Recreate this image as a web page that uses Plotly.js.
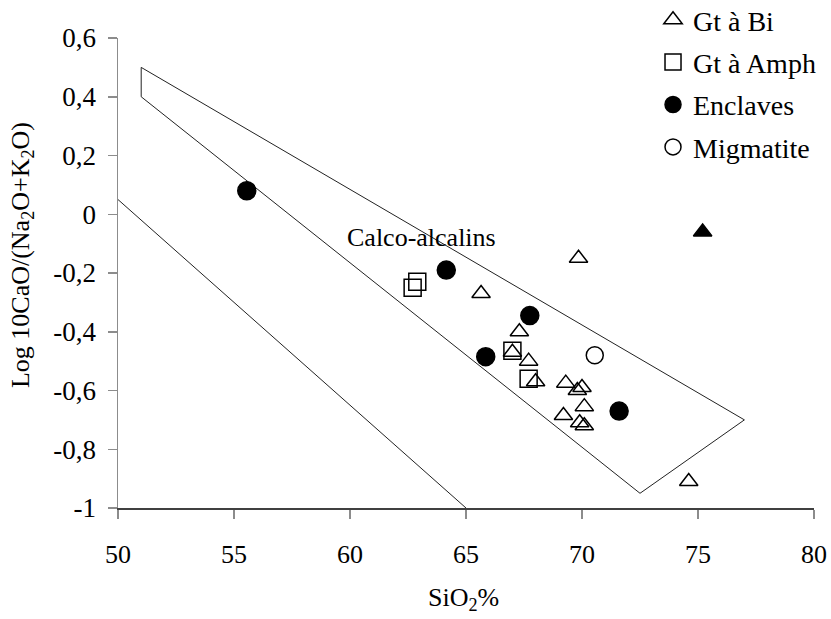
<!DOCTYPE html>
<html>
<head>
<meta charset="utf-8">
<script src="https://cdn.plot.ly/plotly-3.0.1.min.js"></script>
<style>html,body{margin:0;padding:0;background:#fff;}#chart{width:831px;height:619px;}</style>
</head>
<body>
<div id="chart"></div>
<script>
// Calc-alkaline field and boundary line
const fieldX = [51, 77, 72.5, 51, 51];
const fieldY = [0.5, -0.7, -0.95, 0.4, 0.5];
const lineX = [50, 65];
const lineY = [0.05, -1];

// Gt à Bi (open triangles)
const biX = [65.65, 69.85, 67.3, 67.0, 67.7, 68.0, 69.3, 69.8, 70.0, 70.1, 69.2, 69.9, 70.1, 74.6];
const biY = [-0.27, -0.15, -0.40, -0.47, -0.50, -0.57, -0.575, -0.60, -0.59, -0.655, -0.685, -0.71, -0.72, -0.91];
// Gt à Amph (open squares)
const amphX = [62.9, 62.7, 67.0, 67.7];
const amphY = [-0.23, -0.25, -0.465, -0.56];
// Enclaves (filled circles)
const enclX = [55.55, 64.15, 67.75, 65.85, 71.6];
const enclY = [0.08, -0.19, -0.345, -0.485, -0.67];
// Migmatite (open circle)
const migX = [70.55];
const migY = [-0.48];
// Filled triangle
const solidX = [75.2];
const solidY = [-0.06];

const xTicks = [50, 55, 60, 65, 70, 75, 80];
const xTickText = ['50', '55', '60', '65', '70', '75', '80'];
const yTicks = [-1, -0.8, -0.6, -0.4, -0.2, 0, 0.2, 0.4, 0.6];
const yTickText = ['-1', '-0,8', '-0,6', '-0,4', '-0,2', '0', '0,2', '0,4', '0,6'];

const FONT = 'Liberation Serif, Times New Roman, serif';
const lineStyle = {color: '#222', width: 1};
const mk = (sym, size, fill) => ({symbol: sym, size: size, color: fill || '#000', line: {color: '#000', width: 1.5}});

const traces = [
  {x: fieldX, y: fieldY, mode: 'lines', line: lineStyle, showlegend: false, hoverinfo: 'skip'},
  {x: lineX, y: lineY, mode: 'lines', line: lineStyle, showlegend: false, hoverinfo: 'skip'},
  {x: amphX, y: amphY, mode: 'markers', name: 'Gt à Amph', legendgroup: 'b', legendrank: 2, marker: mk('square-open', 17)},
  {x: biX, y: biY, mode: 'markers', name: 'Gt à Bi', legendgroup: 'a', legendrank: 1, marker: mk('triangle-up-open', 16)},
  {x: enclX, y: enclY, mode: 'markers', name: 'Enclaves', legendgroup: 'c', legendrank: 3, marker: mk('circle', 18, '#000')},
  {x: migX, y: migY, mode: 'markers', name: 'Migmatite', legendgroup: 'd', legendrank: 4, marker: mk('circle-open', 17)},
  {x: solidX, y: solidY, mode: 'markers', showlegend: false, marker: mk('triangle-up', 16, '#000')}
];

const layout = {
  width: 831, height: 619,
  margin: {l: 118, r: 17, t: 38, b: 111, autoexpand: false},
  paper_bgcolor: '#fff', plot_bgcolor: '#fff',
  font: {family: FONT, size: 26, color: '#000'},
  showlegend: true,
  legend: {xref: 'paper', yref: 'paper', x: 0.7687, xanchor: 'left', y: 1.0915, yanchor: 'top', bgcolor: 'rgba(0,0,0,0)',
           font: {family: FONT, size: 28, color: '#000'}, tracegroupgap: 3, traceorder: 'grouped', itemsizing: 'trace'},
  xaxis: {range: [50, 80], tickmode: 'array', tickvals: xTicks, ticktext: xTickText,
          showgrid: false, zeroline: false, showline: true, linecolor: '#404040', linewidth: 1.5,
          ticks: 'outside', ticklen: 9, tickcolor: '#8c8c8c', tickwidth: 1.5, ticklabelstandoff: 13,
          tickfont: {family: FONT, size: 26, color: '#000'}},
  yaxis: {range: [-1, 0.6], tickmode: 'array', tickvals: yTicks, ticktext: yTickText,
          showgrid: false, zeroline: false, showline: true, linecolor: '#8c8c8c', linewidth: 1.5,
          ticks: 'outside', ticklen: 9, tickcolor: '#8c8c8c', tickwidth: 1.5, ticklabelstandoff: 6,
          tickfont: {family: FONT, size: 27, color: '#000'}},
  annotations: [
    {x: 63.1, y: -0.08, xref: 'x', yref: 'y', text: 'Calco-alcalins', showarrow: false,
     font: {family: FONT, size: 26, color: '#000'}},
    {x: 0.4957, y: -0.194, xref: 'paper', yref: 'paper', text: 'SiO<sub>2</sub>%', showarrow: false,
     xanchor: 'center', yanchor: 'middle', font: {family: FONT, size: 26, color: '#000'}},
    {x: -0.138, y: 0.538, xref: 'paper', yref: 'paper', text: 'Log 10CaO/(Na<sub>2</sub>O+K<sub>2</sub>O)',
     showarrow: false, textangle: -90, xanchor: 'center', yanchor: 'middle', font: {family: FONT, size: 26, color: '#000'}}
  ]
};

Plotly.newPlot('chart', traces, layout, {displayModeBar: false, staticPlot: true});
</script>
</body>
</html>
